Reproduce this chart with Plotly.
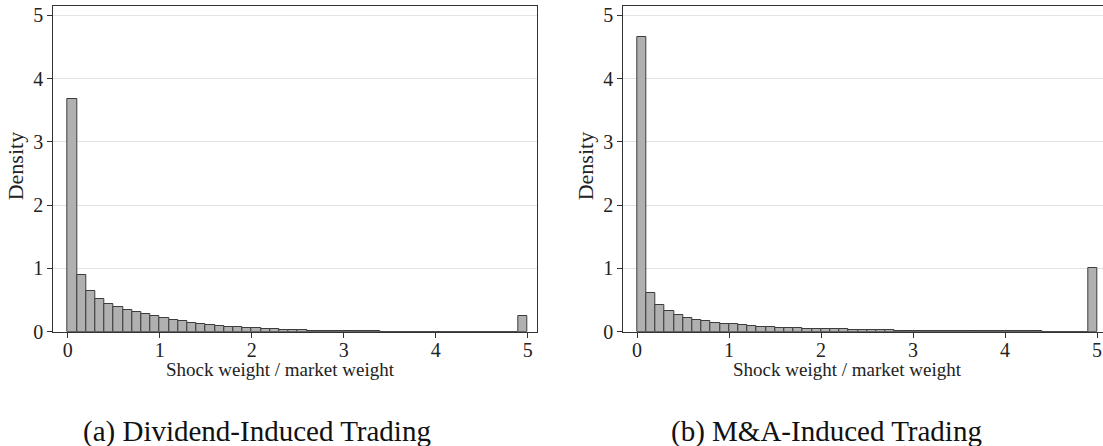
import plotly.graph_objects as go

# Histogram bins of the shock-to-market weight ratio (width 0.1, 0 to 5; last bin holds values >= 4.9)
bin_left = [round(0.1 * i, 1) for i in range(50)]

dividend_density = [
    3.67, 0.895, 0.647, 0.516, 0.442, 0.384, 0.347, 0.305, 0.274, 0.242,
    0.210, 0.190, 0.163, 0.142, 0.126, 0.105, 0.095, 0.079, 0.068, 0.063,
    0.055, 0.048, 0.040, 0.034, 0.028, 0.022, 0.018, 0.014, 0.011, 0.009,
    0.007, 0.006, 0.005, 0.004, 0.003, 0.003, 0.002, 0.002, 0.002, 0.002,
    0.001, 0.001, 0.001, 0.001, 0.001, 0.001, 0.001, 0.001, 0.001, 0.243,
]

ma_density = [
    4.66, 0.617, 0.426, 0.324, 0.260, 0.218, 0.186, 0.165, 0.144, 0.122,
    0.117, 0.101, 0.090, 0.074, 0.069, 0.064, 0.053, 0.053, 0.048, 0.043,
    0.040, 0.038, 0.035, 0.032, 0.030, 0.027, 0.024, 0.021, 0.018, 0.016,
    0.014, 0.012, 0.011, 0.010, 0.009, 0.008, 0.007, 0.006, 0.006, 0.005,
    0.005, 0.004, 0.004, 0.004, 0.003, 0.003, 0.003, 0.003, 0.003, 1.01,
]

x_ticks = [0, 1, 2, 3, 4, 5]
y_ticks = [0, 1, 2, 3, 4, 5]
x_title = "Shock weight / market weight"
y_title = "Density"
captions = ["(a) Dividend-Induced Trading", "(b) M&A-Induced Trading"]

W, H = 1103, 446
BIN_W = 0.1
FONT = "Liberation Serif"
BAR_FILL = "#b0b0b0"
BAR_EDGE = "#3c3c3c"
AXIS_COL = "#333333"

fig = go.Figure()

panels = [
    dict(data=dividend_density, xa="x", ya="y", px=(53.3, 536.7), xr=[-0.157, 5.098], title_x=280, cap_x=257),
    dict(data=ma_density, xa="x2", ya="y2", px=(623.3, 1102.7), xr=[-0.149, 5.062], title_x=847.5, cap_x=826),
]

y_top_px, y_bot_px = 6.0, 331.7
y_dom = [(H - y_bot_px) / H, (H - y_top_px) / H]
y_range = [0, (y_bot_px - y_top_px) / 63.3]

for k, p in enumerate(panels):
    centers = [b + BIN_W / 2 for b in bin_left]
    fig.add_trace(go.Bar(
        x=centers, y=p["data"], width=BIN_W,
        marker=dict(color=BAR_FILL, line=dict(color=BAR_EDGE, width=1)),
        xaxis=p["xa"], yaxis=p["ya"], showlegend=False, hoverinfo="x+y",
    ))
    sfx = "" if k == 0 else str(k + 1)
    x_dom = [p["px"][0] / W, min(p["px"][1] / W, 1.0)]
    fig.layout["xaxis" + sfx] = dict(
        domain=x_dom, range=p["xr"], anchor="y" + sfx, automargin=False,
        tickvals=x_ticks, ticks="outside", ticklen=5, tickwidth=1, tickcolor=AXIS_COL,
        ticklabelstandoff=-5,
        showline=True, linecolor=AXIS_COL, linewidth=1.3, mirror=True,
        showgrid=False, zeroline=False,
        tickfont=dict(family=FONT, size=20, color="#222222"),
    )
    fig.layout["yaxis" + sfx] = dict(
        domain=y_dom, range=y_range, anchor="x" + sfx, automargin=False,
        tickvals=y_ticks, ticks="outside", ticklen=5, tickwidth=1, tickcolor=AXIS_COL,
        showline=True, linecolor=AXIS_COL, linewidth=1.3, mirror=True,
        showgrid=True, gridcolor="#e3e3e3", gridwidth=1, zeroline=False,
        tickfont=dict(family=FONT, size=20, color="#222222"),
    )
    # axis titles
    fig.add_annotation(
        x=p["title_x"] / W, y=(H - 369) / H, xref="paper", yref="paper",
        text=x_title, showarrow=False, xanchor="center", yanchor="middle",
        font=dict(family=FONT, size=19, color="#222222"),
    )
    fig.add_annotation(
        x=(p["px"][0] - 37) / W, y=(H - 166) / H, xref="paper", yref="paper",
        text=y_title, showarrow=False, textangle=-90, xanchor="center", yanchor="middle",
        font=dict(family=FONT, size=22, color="#222222"),
    )
    # sub-figure caption
    fig.add_annotation(
        x=p["cap_x"] / W, y=(H - 431) / H, xref="paper", yref="paper",
        text=captions[k].replace("&", "&amp;"), showarrow=False, xanchor="center", yanchor="middle",
        font=dict(family=FONT, size=29, color="#111111"),
    )

fig.update_layout(
    width=W, height=H, margin=dict(l=0, r=0, t=0, b=0, autoexpand=False),
    paper_bgcolor="white", plot_bgcolor="white",
    bargap=0, barmode="overlay",
)

fig.write_html("out.html")
